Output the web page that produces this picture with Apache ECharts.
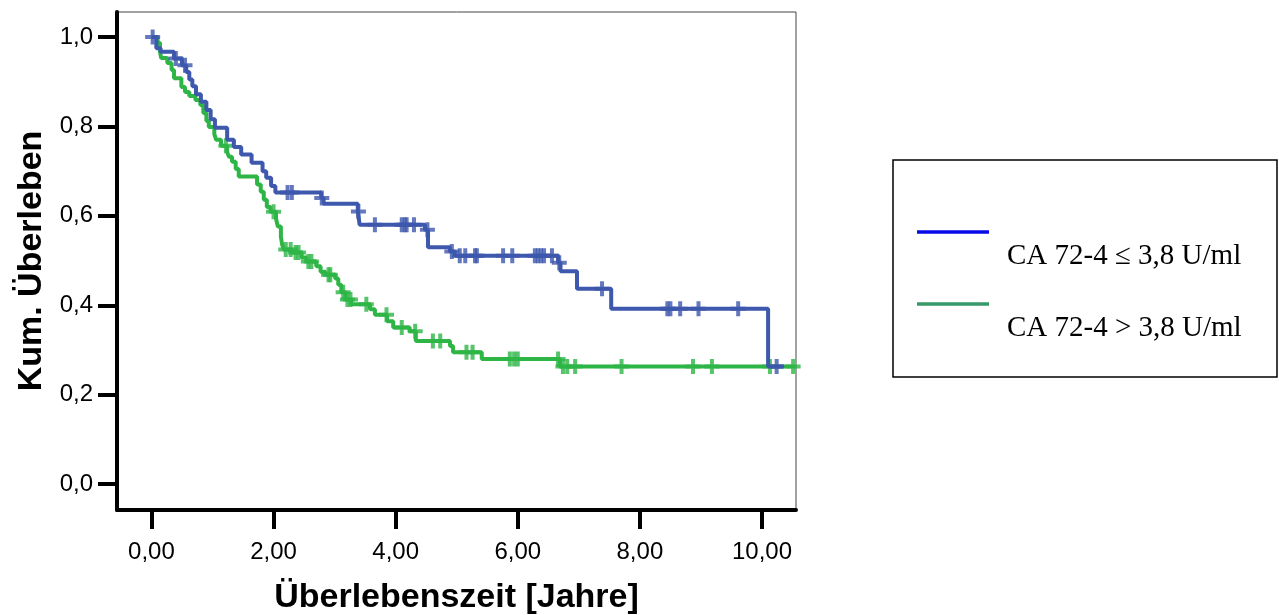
<!DOCTYPE html>
<html>
<head>
<meta charset="utf-8">
<title>Kaplan-Meier CA 72-4</title>
<script src="https://cdn.jsdelivr.net/npm/echarts@6/dist/echarts.min.js"></script>
<style>
  html, body { margin: 0; padding: 0; background: #fff; }
  #chart { width: 1279px; height: 615px; }
</style>
</head>
<body>
<div id="chart"></div>
<script>
// Stufen der Kaplan-Meier-Kurven (Zeit in Jahren, kumulatives Überleben)
var blueT = [0, 0.08, 0.15, 0.37, 0.50, 0.57, 0.62, 0.67, 0.73, 0.81, 0.90, 0.97, 1.04, 1.24, 1.35, 1.47, 1.64, 1.82, 1.88, 1.96, 2.03,
  2.78, 2.82, 3.38, 3.41, 4.48, 4.53, 4.89, 4.97, 6.66, 6.70, 6.97, 7.53, 10.10, 10.35];
var blueS = [1.0, 0.975, 0.967, 0.952, 0.937, 0.922, 0.905, 0.89, 0.872, 0.855, 0.837, 0.816, 0.797, 0.77, 0.754, 0.737, 0.719, 0.70, 0.685, 0.667, 0.652,
  0.64, 0.627, 0.61, 0.58, 0.569, 0.53, 0.52, 0.511, 0.495, 0.476, 0.437, 0.392, 0.263, 0.263];

var greenT = [0, 0.10, 0.14, 0.16, 0.26, 0.33, 0.37, 0.49, 0.55, 0.62, 0.72, 0.80, 0.85, 0.90, 0.94, 1.03, 1.06, 1.14, 1.24, 1.27, 1.32, 1.38, 1.43,
  1.73, 1.79, 1.84, 1.89, 1.95, 2.04, 2.07, 2.12, 2.14, 2.17, 2.30, 2.46, 2.54, 2.70, 2.77, 2.85, 3.01, 3.06, 3.11, 3.18, 3.27,
  3.58, 3.66, 3.86, 3.96, 4.23, 4.33, 4.89, 4.94, 5.41, 6.69, 10.55];
var greenS = [1.0, 0.987, 0.967, 0.953, 0.942, 0.926, 0.908, 0.888, 0.877, 0.868, 0.859, 0.848, 0.83, 0.812, 0.799, 0.783, 0.77, 0.757, 0.743, 0.732, 0.721, 0.705, 0.688,
  0.67, 0.654, 0.636, 0.62, 0.609, 0.594, 0.576, 0.554, 0.536, 0.525, 0.518, 0.507, 0.498, 0.487, 0.475, 0.468, 0.46, 0.446, 0.429, 0.413, 0.402,
  0.391, 0.379, 0.364, 0.35, 0.342, 0.32, 0.309, 0.295, 0.28, 0.263, 0.263];

// zensierte Fälle
var blueCensT = [0.02, 0.40, 0.55, 2.23, 2.30, 2.79, 3.39, 3.66, 4.10, 4.15, 4.18, 4.30, 4.52, 4.92, 5.05, 5.14, 5.30, 5.33, 5.76, 5.91,
  6.28, 6.33, 6.38, 6.43, 6.56, 6.68, 7.38, 8.45, 8.50, 8.66, 8.96, 9.61, 10.24];
var blueCensS = [1.0, 0.952, 0.937, 0.652, 0.652, 0.64, 0.61, 0.58, 0.58, 0.58, 0.58, 0.58, 0.569, 0.52, 0.511, 0.511, 0.511, 0.511, 0.511, 0.511,
  0.511, 0.511, 0.511, 0.511, 0.511, 0.495, 0.437, 0.392, 0.392, 0.392, 0.392, 0.392, 0.263];

var greenCensT = [1.22, 2.00, 2.20, 2.28, 2.36, 2.41, 2.57, 2.62, 2.90, 2.93, 3.14, 3.21, 3.26, 3.52, 3.85, 4.10, 4.32, 4.61, 4.73,
  5.16, 5.26, 5.87, 5.94, 6.00, 6.66, 6.74, 6.81, 6.94, 7.70, 8.87, 9.18, 10.13, 10.51];
var greenCensS = [0.757, 0.609, 0.525, 0.525, 0.518, 0.518, 0.498, 0.498, 0.468, 0.468, 0.429, 0.413, 0.413, 0.402, 0.379, 0.35, 0.342, 0.32, 0.32,
  0.295, 0.295, 0.28, 0.28, 0.28, 0.28, 0.263, 0.263, 0.263, 0.263, 0.263, 0.263, 0.263, 0.263];

var xTicks = [0, 2, 4, 6, 8, 10];
var yTicks = [0, 0.2, 0.4, 0.6, 0.8, 1.0];
var names = ['CA 72-4 \u2264 3,8 U/ml', 'CA 72-4 > 3,8 U/ml'];

var blueCol = '#3d58ac';
var greenCol = '#2db546';
var plus = 'path://M-2,-7.5H2V-2H7.5V2H2V7.5H-2V2H-7.5V-2H-2Z';

function zip(a, b) {
  var out = [];
  for (var i = 0; i < a.length; i++) out.push([a[i], b[i]]);
  return out;
}

var chart = echarts.init(document.getElementById('chart'));
chart.setOption({
  animation: false,
  grid: {
    left: 117, right: 483, top: 12, bottom: 105,
    outerBoundsMode: 'none', containLabel: false,
    show: true, borderColor: '#444', borderWidth: 1
  },
  xAxis: {
    type: 'value',
    min: -0.564, max: 10.557,
    name: 'Überlebenszeit [Jahre]',
    nameLocation: 'middle',
    nameGap: 71,
    nameTextStyle: { fontFamily: 'Liberation Sans', fontWeight: 'bold', fontSize: 34, color: '#000' },
    axisLine: { onZero: false, lineStyle: { color: '#000', width: 4 } },
    axisTick: { show: true, customValues: xTicks, length: 19, lineStyle: { color: '#000', width: 4 } },
    axisLabel: {
      customValues: xTicks, margin: 30,
      fontFamily: 'Liberation Sans', fontSize: 24, color: '#000',
      formatter: function (v) { return v.toFixed(2).replace('.', ','); }
    },
    splitLine: { show: false }
  },
  yAxis: {
    type: 'value',
    min: -0.058, max: 1.056,
    name: 'Kum. Überleben',
    nameLocation: 'middle',
    nameGap: 64,
    nameTextStyle: { fontFamily: 'Liberation Sans', fontWeight: 'bold', fontSize: 34, color: '#000' },
    axisLine: { onZero: false, lineStyle: { color: '#000', width: 4 } },
    axisTick: { show: true, customValues: yTicks, length: 19, lineStyle: { color: '#000', width: 4 } },
    axisLabel: {
      customValues: yTicks, margin: 24,
      fontFamily: 'Liberation Sans', fontSize: 24, color: '#000',
      formatter: function (v) { return v.toFixed(1).replace('.', ','); }
    },
    splitLine: { show: false }
  },
  series: [
    {
      name: names[1], type: 'line', step: 'end', data: zip(greenT, greenS),
      showSymbol: false, lineStyle: { color: greenCol, width: 4 }, z: 2
    },
    {
      name: names[1] + ' zensiert', type: 'scatter', data: zip(greenCensT, greenCensS),
      symbol: plus, symbolSize: [15, 15], itemStyle: { color: greenCol }, z: 3
    },
    {
      name: names[0], type: 'line', step: 'end', data: zip(blueT, blueS),
      showSymbol: false, lineStyle: { color: blueCol, width: 4 }, z: 4
    },
    {
      name: names[0] + ' zensiert', type: 'scatter', data: zip(blueCensT, blueCensS),
      symbol: plus, symbolSize: [15, 15], itemStyle: { color: blueCol }, z: 5
    }
  ],
  graphic: [
    { type: 'rect', shape: { x: 893, y: 160, width: 384, height: 217 },
      style: { fill: '#fff', stroke: '#000', lineWidth: 1.5 } },
    { type: 'line', shape: { x1: 917, y1: 232, x2: 989, y2: 232 },
      style: { stroke: '#0a0ae8', lineWidth: 3.5 } },
    { type: 'line', shape: { x1: 917, y1: 304, x2: 989, y2: 304 },
      style: { stroke: '#359968', lineWidth: 3.5 } },
    { type: 'text', x: 1007, y: 256,
      style: { text: names[0], font: '29px "Liberation Serif"', fill: '#000', verticalAlign: 'middle' } },
    { type: 'text', x: 1007, y: 328,
      style: { text: names[1], font: '29px "Liberation Serif"', fill: '#000', verticalAlign: 'middle' } }
  ]
});
</script>
</body>
</html>
